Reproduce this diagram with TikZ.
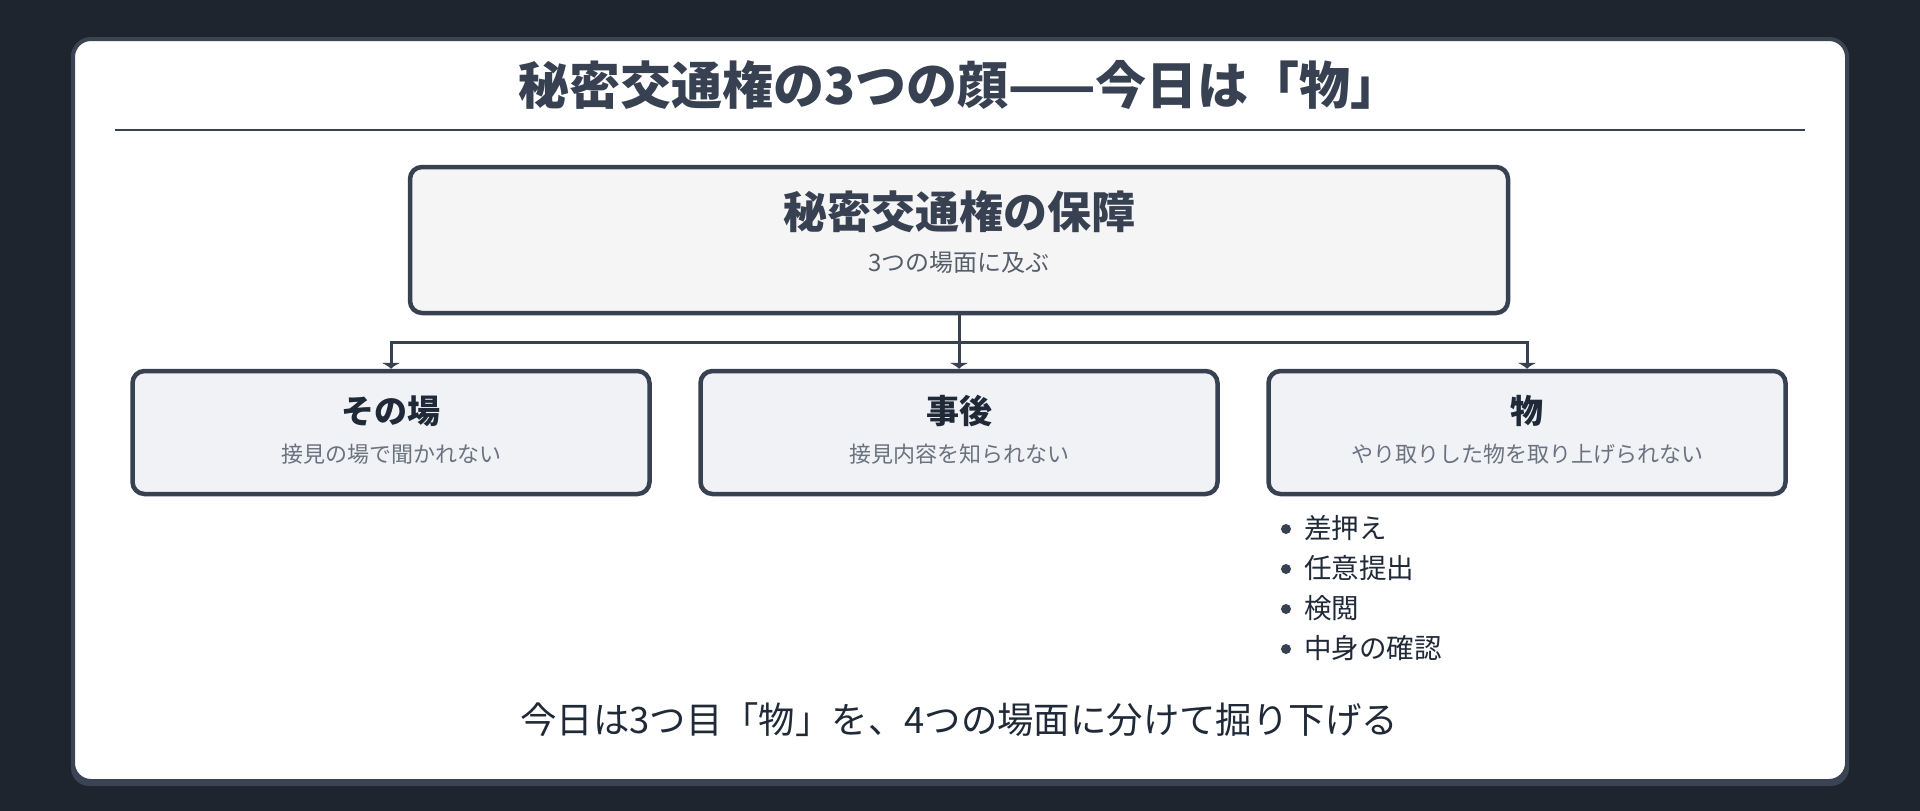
\documentclass[tikz,border=0pt]{standalone}
\usepackage{fontspec}
\setmainfont{Noto Sans CJK JP}
\usetikzlibrary{arrows.meta}
\pgfdeclarelayer{cardlayer}
\pgfdeclarelayer{connlayer}
\pgfsetlayers{cardlayer,connlayer,main}
\definecolor{bgdark}{HTML}{1E252F}
\definecolor{cardedge}{HTML}{3B4452}
\definecolor{ink}{HTML}{374151}
\definecolor{inkdark}{HTML}{1F2937}
\definecolor{subgray}{HTML}{6B7280}
\definecolor{topfill}{HTML}{F5F5F6}
\definecolor{childfill}{HTML}{F0F2F5}
\tikzset{
  topbox/.style={draw=ink, line width=4.5pt, fill=topfill, rounded corners=12pt, minimum width=1098pt, minimum height=146pt, inner sep=0pt},
  childbox/.style={draw=ink, line width=4.5pt, fill=childfill, rounded corners=12pt, minimum width=517pt, minimum height=123pt, inner sep=0pt},
  txt/.style={inner sep=0pt, anchor=center},
  conn/.style={draw=ink, line width=3pt},
  connarrow/.style={conn, -{Latex[length=6pt,width=20pt]}},
  dot/.style={circle, fill=ink, inner sep=0pt, minimum size=10pt}
}
\begin{document}
\begin{tikzpicture}[x=1pt,y=-1pt]
\useasboundingbox (0,0) rectangle (1920,811);
\begin{pgfonlayer}{cardlayer}
\fill[bgdark] (0,0) rectangle (1920,811);
\fill[cardedge, rounded corners=18pt] (71,39) rectangle (1849,786);
\draw[cardedge, line width=4pt, fill=white, rounded corners=18pt] (73,39) rectangle (1847,781);
\end{pgfonlayer}
% title
\node[txt, text=ink] (title) at (960,85) {\fontsize{51}{58}\selectfont\bfseries 秘密交通権の3つの顔——今日は「物」};
\coordinate (rl) at (115,130);
\coordinate (rr) at (1805,130);
\draw[ink, line width=2.5pt] (rl) -- (rr);
% top box
\node[topbox] (top) at (959,240) {};
\node[txt, text=ink] (toptitle) at (959,212) {\fontsize{44}{52}\selectfont\bfseries 秘密交通権の保障};
\node[txt, text=ink!85] (topsub) at (959,263) {\fontsize{24}{30}\selectfont 3つの場面に及ぶ};
% children
\node[childbox] (c1) at (391,432.5) {};
\node[childbox] (c2) at (959,432.5) {};
\node[childbox] (c3) at (1527,432.5) {};
\node[txt, text=inkdark] (c1t) at (391,411) {\fontsize{33}{38}\selectfont\bfseries その場};
\node[txt, text=subgray] (c1s) at (391,454) {\fontsize{22}{26}\selectfont 接見の場で聞かれない};
\node[txt, text=inkdark] (c2t) at (959,411) {\fontsize{33}{38}\selectfont\bfseries 事後};
\node[txt, text=subgray] (c2s) at (959,454) {\fontsize{22}{26}\selectfont 接見内容を知られない};
\node[txt, text=inkdark] (c3t) at (1527,411) {\fontsize{33}{38}\selectfont\bfseries 物};
\node[txt, text=subgray] (c3s) at (1527,454) {\fontsize{22}{26}\selectfont やり取りした物を取り上げられない};
% connectors (drawn beneath the boxes)
\coordinate (hub) at (959,342);
\begin{pgfonlayer}{connlayer}
\draw[conn] (top.south) -- (hub);
\draw[connarrow] (hub) -| (c1.north);
\draw[connarrow] (hub) -- (c2.north);
\draw[connarrow] (hub) -| (c3.north);
\end{pgfonlayer}
% bullets
\node[dot] (d1) at (1286,529) {};
\node[dot] (d2) at (1286,569) {};
\node[dot] (d3) at (1286,609) {};
\node[dot] (d4) at (1286,649) {};
\node[txt, anchor=west, text=inkdark] (b1) at (1304,528) {\fontsize{27.5}{32}\selectfont 差押え};
\node[txt, anchor=west, text=inkdark] (b2) at (1304,568) {\fontsize{27.5}{32}\selectfont 任意提出};
\node[txt, anchor=west, text=inkdark] (b3) at (1304,608) {\fontsize{27.5}{32}\selectfont 検閲};
\node[txt, anchor=west, text=inkdark] (b4) at (1304,648) {\fontsize{27.5}{32}\selectfont 中身の確認};
% footer
\node[txt, text=inkdark] (foot) at (959,720) {\fontsize{36.4}{42}\selectfont 今日は3つ目「物」を、4つの場面に分けて掘り下げる};
\end{tikzpicture}
\end{document}
